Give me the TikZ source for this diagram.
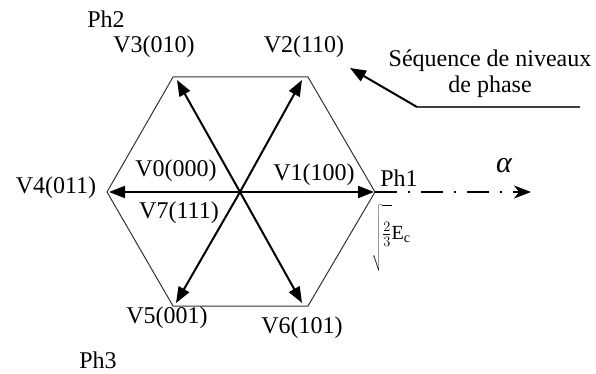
\documentclass[tikz,border=0pt]{standalone}
\usepackage{fontspec}
\setmainfont{Liberation Serif}
\usetikzlibrary{arrows.meta}

\tikzset{
  vec/.style={line width=2pt, -{Triangle[length=16pt,width=12pt]}},
  lbl/.style={inner sep=0pt, font=\fontsize{24}{26}\selectfont},
}

\begin{document}
\begin{tikzpicture}[x=1pt, y=-1pt]
        \useasboundingbox (0,0) rectangle (596,374);

        % The hexagon
        \coordinate (O) at (240,192);
        \coordinate (h1) at (375,192);
        \coordinate (h2) at (308,77);
        \coordinate (h3) at (173,77);
        \coordinate (h4) at (107,192);
        \coordinate (h5) at (173,306);
        \coordinate (h6) at (308,306);
        \draw[line width=1pt, black!80] (h1) -- (h2) -- (h3) -- (h4) -- (h5) -- (h6) -- cycle;

        % The vectors
        \coordinate (t1) at (374,192);
        \coordinate (t2) at (302,80);
        \coordinate (t3) at (177,80);
        \coordinate (t4) at (109,192);
        \coordinate (t5) at (176,303);
        \coordinate (t6) at (302,303);
        \foreach \i in {1,...,6}
            \draw[vec] (O) -- (t\i);

        % The axis alpha
        \coordinate (aEnd) at (531,192);
        \draw[line width=1.8pt, dash pattern=on 22pt off 11pt on 2pt off 11pt,
              -{Stealth[length=17pt,width=13pt,inset=5pt]}] (h1) -- (aEnd);
        \node (alpha) [inner sep=0pt, font=\fontsize{30}{32}\selectfont\itshape] at (504,166) {α};

        % The labels
        \node (Ph1) [lbl] at (399,178) {Ph1};
        \node (Ph2) [lbl] at (106,19) {Ph2};
        \node (Ph3) [lbl] at (98,360) {Ph3};
        \node (V0) [lbl] at (176,171) {V0(000)};
        \node (V1) [lbl] at (314,175) {V1(100)};
        \node (V2) [lbl] at (304,47) {V2(110)};
        \node (V3) [lbl] at (154,47) {V3(010)};
        \node (V4) [lbl] at (56,188) {V4(011)};
        \node (V5) [lbl] at (167,318) {V5(001)};
        \node (V6) [lbl] at (302,328) {V6(101)};
        \node (V7) [lbl] at (179,213) {V7(111)};
        \node (Ec) [inner sep=0pt, font=\fontsize{20}{22}\selectfont] at (391,238)
            {$\sqrt{\rule[-31pt]{0pt}{64pt}\smash{\frac{2}{3}}}$E\textsubscript{c}};

        % The phase sequence note
        \node (seq1) [lbl] at (490,61) {Séquence de niveaux};
        \node (seq2) [lbl] at (490,87) {de phase};
        \coordinate (seqR) at (580,107);
        \coordinate (seqL) at (417,107);
        \coordinate (seqTip) at (350,68);
        \draw[line width=1.2pt, black!75] (seqR) -- (seqL);
        \draw[vec] (seqL) -- (seqTip);
    \end{tikzpicture}
\end{document}
